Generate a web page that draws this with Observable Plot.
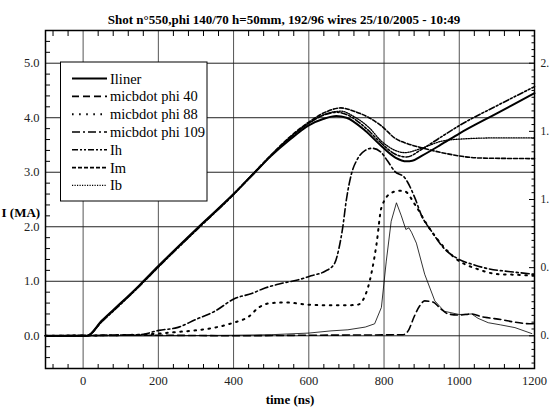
<!DOCTYPE html>
<html>
<head>
<meta charset="utf-8">
<script src="https://cdn.jsdelivr.net/npm/d3@7"></script>
<script src="https://cdn.jsdelivr.net/npm/@observablehq/plot@0.6"></script>
<style>
  html, body { margin: 0; padding: 0; background: #fff; }
  #chart { width: 549px; height: 414px; overflow: hidden; }
  svg, svg text { font-family: "Liberation Serif", "DejaVu Serif", serif; }
</style>
</head>
<body>
<div id="chart"></div>
<script>
// ---- data (time in ns, current in MA as read on left axis) ----
const titleText = "Shot n°550,phi 140/70 h=50mm, 192/96 wires 25/10/2005 - 10:49";
const xTicks = [0, 200, 400, 600, 800, 1000, 1200];
const yTicks = [0, 1, 2, 3, 4, 5];
const yTickLabels = ["0.0", "1.0", "2.0", "3.0", "4.0", "5.0"];
const rightTickLabels = ["0.", "0.", "1.", "1.", "2."];  // right-hand labels, as visible at the picture's edge

const t_Iliner = [-100, 10, 50, 100, 150, 200, 300, 400, 450, 500, 550, 600, 640, 673, 700, 750, 790, 830, 860, 875, 900, 950, 1000, 1100, 1200];
const v_Iliner = [0, 0, 0.28, 0.6, 0.93, 1.28, 1.95, 2.6, 2.95, 3.3, 3.6, 3.86, 3.98, 4.03, 4.0, 3.76, 3.5, 3.27, 3.2, 3.21, 3.3, 3.5, 3.71, 4.08, 4.45];

const t_phi40 = [-100, 200, 400, 600, 850, 865, 880, 895, 908, 930, 950, 971, 1000, 1033, 1060, 1077, 1110, 1148, 1193, 1200];
const v_phi40 = [0, 0.01, 0, 0.01, 0.02, 0.1, 0.35, 0.55, 0.64, 0.62, 0.5, 0.4, 0.38, 0.4, 0.35, 0.33, 0.3, 0.25, 0.22, 0.22];

const t_phi88 = [-100, 150, 250, 300, 350, 400, 440, 467, 500, 539, 600, 650, 700, 730, 757, 780, 793, 819, 840, 855, 882, 917, 950, 988, 1050, 1104, 1150, 1200];
const v_phi88 = [0, 0.02, 0.07, 0.1, 0.15, 0.24, 0.35, 0.52, 0.6, 0.61, 0.57, 0.56, 0.56, 0.57, 0.88, 1.68, 2.35, 2.62, 2.66, 2.65, 2.41, 2.01, 1.7, 1.43, 1.22, 1.13, 1.12, 1.1];

const t_phi109 = [-100, 150, 202, 250, 300, 350, 402, 450, 477, 521, 579, 606, 642, 668, 680, 690, 700, 713, 730, 750, 768, 790, 810, 828, 855, 882, 900, 926, 960, 997, 1040, 1077, 1130, 1200];
const v_phi109 = [0, 0.02, 0.1, 0.15, 0.3, 0.45, 0.68, 0.78, 0.86, 0.95, 1.04, 1.1, 1.18, 1.32, 1.6, 1.98, 2.5, 2.96, 3.25, 3.4, 3.44, 3.38, 3.2, 3.02, 2.9, 2.53, 2.2, 1.92, 1.6, 1.41, 1.3, 1.23, 1.18, 1.13];

const t_Ih = [-100, 10, 50, 100, 150, 200, 300, 400, 450, 500, 550, 600, 640, 675, 700, 750, 790, 830, 860, 900, 950, 1006, 1100, 1200];
const v_Ih = [0, 0, 0.26, 0.58, 0.91, 1.26, 1.93, 2.59, 2.95, 3.31, 3.63, 3.9, 4.05, 4.1, 4.06, 3.82, 3.55, 3.33, 3.28, 3.42, 3.64, 3.88, 4.22, 4.57];

const t_Im = [-100, 10, 50, 100, 150, 200, 300, 400, 450, 500, 550, 600, 650, 685, 720, 760, 793, 830, 864, 900, 953, 1059, 1200];
const v_Im = [0, 0, 0.27, 0.59, 0.92, 1.27, 1.94, 2.6, 2.96, 3.32, 3.65, 3.92, 4.12, 4.18, 4.12, 4.0, 3.85, 3.62, 3.52, 3.45, 3.36, 3.26, 3.25];

const t_Ib = [-100, 10, 50, 100, 150, 200, 300, 400, 450, 500, 550, 600, 650, 686, 720, 760, 793, 830, 855, 900, 953, 1006, 1100, 1200];
const v_Ib = [0, 0, 0.27, 0.59, 0.92, 1.27, 1.94, 2.6, 2.96, 3.31, 3.64, 3.9, 4.08, 4.12, 4.02, 3.82, 3.57, 3.4, 3.36, 3.44, 3.57, 3.61, 3.63, 3.63];

const t_thin = [-100, 200, 400, 500, 600, 659, 704, 750, 775, 793, 806, 819, 833, 846, 858, 866, 873, 886, 908, 935, 960, 1000, 1033, 1050, 1077, 1110, 1148, 1193];
const v_thin = [0, 0, 0.01, 0.02, 0.05, 0.09, 0.11, 0.16, 0.22, 0.52, 1.37, 2.1, 2.44, 2.2, 1.95, 1.98, 1.9, 1.7, 1.13, 0.64, 0.45, 0.39, 0.4, 0.32, 0.24, 0.2, 0.15, 0.04];

const legendNames = ["Iliner", "micbdot phi 40", "micbdot phi 88", "micbdot phi 109", "Ih", "Im", "Ib"];

// ---- styles ----
const styles = {
  "Iliner": {strokeWidth: 2, dash: null},
  "micbdot phi 40": {strokeWidth: 1.6, dash: "7,4"},
  "micbdot phi 88": {strokeWidth: 2, dash: "1.6,5.5"},
  "micbdot phi 109": {strokeWidth: 1.6, dash: "8,3,2,3"},
  "Ih": {strokeWidth: 1.6, dash: "6,2,2,2,2,2"},
  "Im": {strokeWidth: 1.6, dash: "4,2"},
  "Ib": {strokeWidth: 1.3, dash: "1.2,1.3"}
};

const toRows = (t, v) => t.map((d, i) => ({t: d, v: v[i]}));
const series = [
  ["micbdot phi 40", t_phi40, v_phi40],
  ["micbdot phi 88", t_phi88, v_phi88],
  ["micbdot phi 109", t_phi109, v_phi109],
  ["Im", t_Im, v_Im],
  ["Ib", t_Ib, v_Ib],
  ["Ih", t_Ih, v_Ih],
  ["Iliner", t_Iliner, v_Iliner]
];

const minorX = d3.range(-80, 1200, 40).filter(d => d % 200 !== 0);
const minorY = d3.range(-0.4, 5.6, 0.2).map(d => +d.toFixed(2)).filter(d => Math.abs(d - Math.round(d)) > 1e-6);
const rightMajor = [0, 0.5, 1.0, 1.5, 2.0];
const rightMinor = d3.range(-0.2, 2.25, 0.05).map(d => +(d * 2.5).toFixed(4)).filter(d => !rightMajor.some(m => Math.abs(m * 2.5 - d) < 1e-6));
const font = "Liberation Serif";

const lineMarks = series.map(([name, t, v]) =>
  Plot.line(toRows(t, v), {x: "t", y: "v", stroke: "black", strokeWidth: styles[name].strokeWidth, strokeDasharray: styles[name].dash, curve: "monotone-x"})
);

const chart = Plot.plot({
  width: 549,
  height: 414,
  marginTop: 30,
  marginLeft: 45,
  marginRight: 15,
  marginBottom: 46,
  style: {fontFamily: font, background: "white"},
  x: {domain: [-100, 1200]},
  y: {domain: [-0.6, 5.6]},
  marks: [
    Plot.ruleX(xTicks.slice(0, -1), {stroke: "#555", strokeWidth: 1}),
    Plot.ruleY(yTicks, {stroke: "#222", strokeWidth: 1}),
    Plot.line(toRows(t_thin, v_thin), {x: "t", y: "v", stroke: "black", strokeWidth: 0.8, curve: "linear"}),
    ...lineMarks,
    Plot.frame({stroke: "black", strokeWidth: 1.5}),
    // bottom axis labels + inward ticks
    Plot.axisX(xTicks, {anchor: "bottom", tickSize: 0, tickPadding: 8, fontSize: 12.5, fontFamily: font, fill: "#222", tickFormat: d => String(d), label: null}),
    Plot.axisX(minorX, {anchor: "bottom", tickSize: -4, fill: "none", label: null}),
    Plot.axisX(minorX, {anchor: "top", tickSize: -5, fill: "none", label: null}),
    // left axis
    Plot.axisY(yTicks, {anchor: "left", tickSize: 0, tickPadding: 6, fontSize: 12.5, fontFamily: font, fill: "#222", tickFormat: (d, i) => yTickLabels[i], label: null}),
    Plot.axisY(minorY, {anchor: "left", tickSize: -5, fill: "none", label: null}),
    // right axis (scaled by 1/2.5)
    Plot.axisY(rightMajor.map(d => d * 2.5), {anchor: "right", tickSize: -6, tickPadding: 12, fontSize: 11.5, fontFamily: font, fill: "#222", tickFormat: (d, i) => rightTickLabels[i], label: null}),
    Plot.axisY(rightMinor, {anchor: "right", tickSize: -3.5, fill: "none", label: null}),
    // titles
    Plot.text([titleText], {frameAnchor: "top", dy: -16, dx: -6, fontSize: 13, fontFamily: font, fontWeight: "bold", fill: "black"}),
    Plot.text(["I (MA)"], {frameAnchor: "left", dx: -44, dy: 13, textAnchor: "start", fontSize: 13, fontFamily: font, fontWeight: "bold", fill: "black"}),
    Plot.text(["time (ns)"], {frameAnchor: "bottom", dy: 35, fontSize: 13, fontFamily: font, fontWeight: "bold", fill: "black"})
  ]
});

document.getElementById("chart").appendChild(chart);

// ---- legend (drawn into the same svg) ----
const svg = d3.select(chart);
const lg = svg.append("g").attr("font-family", font).attr("font-size", 14.5).attr("text-anchor", "start");
lg.append("rect").attr("x", 60.5).attr("y", 62).attr("width", 146.5).attr("height", 139)
  .attr("fill", "white").attr("stroke", "black").attr("stroke-width", 1);
legendNames.forEach((name, i) => {
  const y = 78.6 + i * 17.8;
  lg.append("line").attr("x1", 72).attr("x2", 107).attr("y1", y).attr("y2", y)
    .attr("stroke", "black").attr("stroke-width", styles[name].strokeWidth)
    .attr("stroke-dasharray", styles[name].dash);
  lg.append("text").attr("x", 110).attr("y", y).attr("dy", "0.35em")
    .attr("text-anchor", "start").attr("fill", "black").text(name);
});
</script>
</body>
</html>
